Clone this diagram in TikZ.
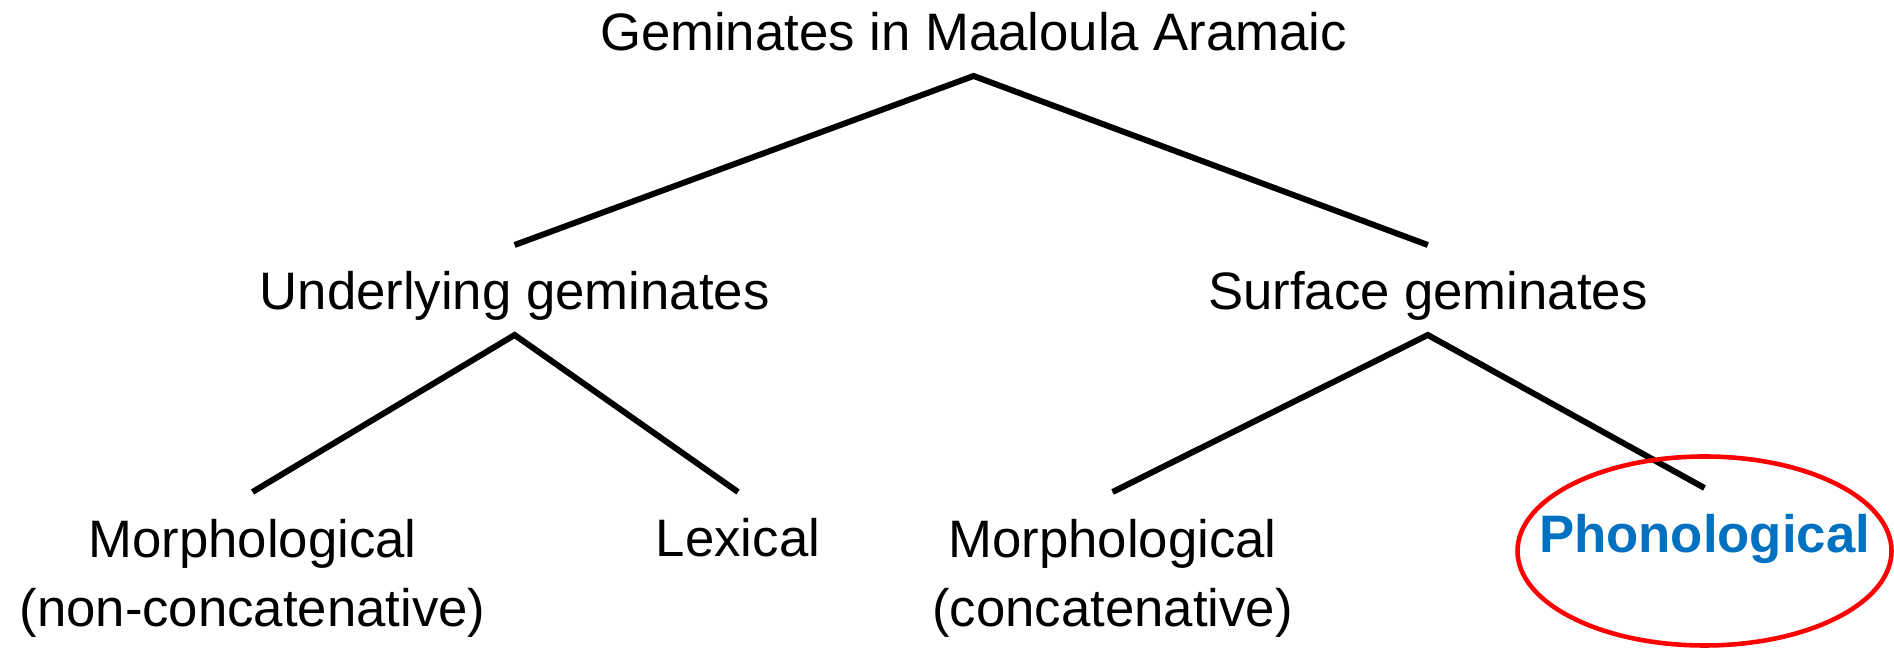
\documentclass[tikz,border=0pt]{standalone}
\usepackage{fontspec}
\setmainfont{Liberation Sans}
\usepackage{xcolor}
\usepackage{tikz}

\definecolor{phonoblue}{HTML}{0070C0}

\begin{document}
\begin{tikzpicture}[
        category/.style={align=center, anchor=base, inner sep=0pt, outer sep=0.15cm,
                         text height=0.5cm, text depth=0.1cm, font=\fontsize{15}{19.9}\selectfont},
        twoline/.style={category, text height=1.2cm},
        branch/.style={line width=1.7pt},
        highlight/.style={draw=red, line width=1.3pt}
    ]
        \useasboundingbox (0,0) rectangle (18.94,-6.48);

        % Nodes
            \node[category] (geminates) at (9.736,-0.51) {Geminates in Maaloula Aramaic};
            \node[category] (underlying) at (5.146,-3.10) {Underlying geminates};
            \node[category] (surface) at (14.278,-3.10) {Surface geminates};
            \node[twoline] (morphnc) at (2.525,-6.27) {Morphological\\(non-concatenative)};
            \node[category] (lexical) at (7.38,-5.57) {Lexical};
            \node[twoline] (morphc) at (11.126,-6.27) {Morphological\\(concatenative)};
            \node[category, text=phonoblue, font=\fontsize{15}{19.9}\selectfont\bfseries] (phono) at (17.045,-5.53) {Phonological};

            % Branches
            \draw[branch] (underlying.north) -- (geminates.south) -- (surface.north);
            \draw[branch] (morphnc.north) -- (underlying.south) -- (lexical.north);
            \draw[branch] (morphc.north) -- (surface.south) -- (phono.north);

            % Ring round the phonological branch
            \draw[highlight] ([yshift=0.02cm]phono.base) ellipse [x radius=1.87cm, y radius=0.945cm];
    \end{tikzpicture}
\end{document}
